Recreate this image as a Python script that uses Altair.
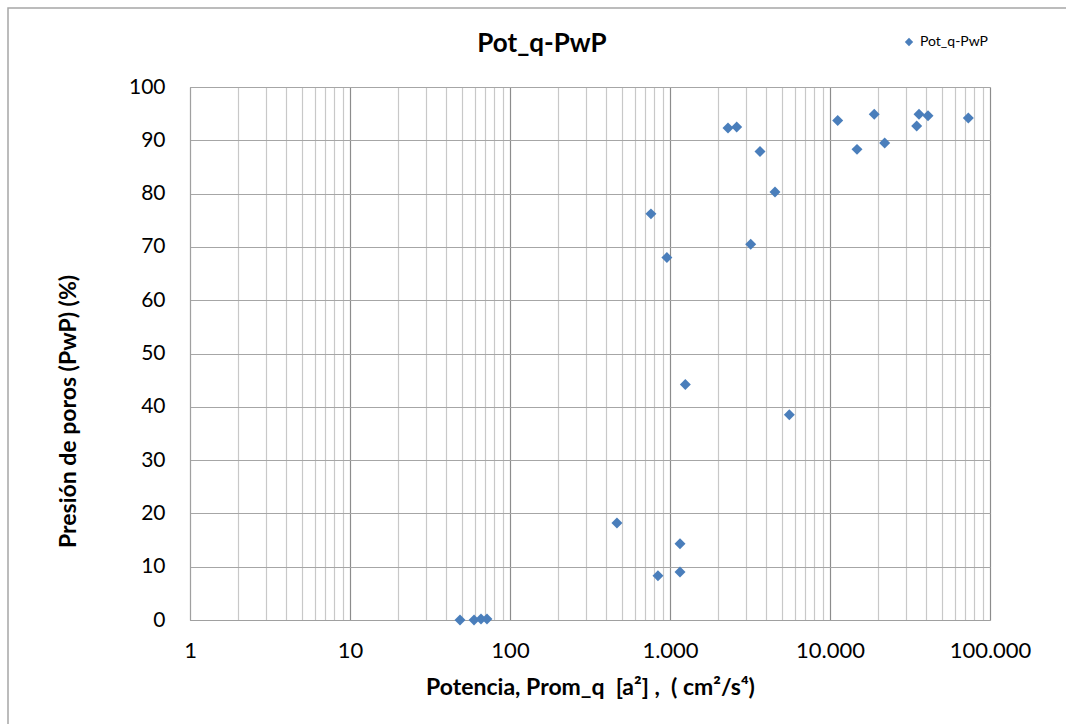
import altair as alt
import pandas as pd

potencia = [48.7, 59.6, 65.9, 71.8, 466, 841, 1155, 1155, 2304, 2612, 3652, 4531,
            760, 3194, 956, 1247, 5570, 11170, 14750, 18900, 21970, 34820, 36000,
            40980, 73200]
pwp = [0.0, 0.0, 0.2, 0.2, 18.2, 8.3, 9.0, 14.3, 92.3, 92.5, 87.9, 80.3,
       76.2, 70.5, 68.0, 44.2, 38.5, 93.7, 88.3, 94.9, 89.5, 92.7, 94.9,
       94.6, 94.2]
series = "Pot_q-PwP"
chart_title = "Pot_q-PwP"
x_title = "Potencia, Prom_q\u00a0\u00a0[a²]\u00a0,\u00a0\u00a0(\u00a0cm²/s⁴)"
y_title = "Presión de poros (PwP) (%)"

x_grid_values = [m * 10 ** e for e in range(0, 5) for m in range(1, 10)] + [100000]

df = pd.DataFrame({"x": potencia, "y": pwp, "s": [series] * len(potencia)})

FONT = "Lato"
is_decade = "abs(log(datum.value)/LN10 - round(log(datum.value)/LN10)) < 1e-6"

x_axis = alt.Axis(
    values=x_grid_values,
    labelExpr=f"({is_decade}) ? replace(format(datum.value, ','), ',', '.') : ''",
    grid=True,
    gridColor={"condition": {"test": is_decade, "value": "#8c8c8c"}, "value": "#c8c8c8"},
    gridWidth=1.2,
    ticks=False,
    domainColor="#a0a0a0",
    labelFontSize=22,
    labelColor="#000000",
    labelFont=FONT,
    labelPadding=20,
    labelFlush=False,
    labelOverlap=False,
    title=x_title,
    titleFont=FONT,
    titleFontSize=23,
    titleFontWeight="bold",
    titleColor="#000000",
    titlePadding=15,
)

y_axis = alt.Axis(
    values=list(range(0, 101, 10)),
    grid=True,
    gridColor="#a6a6a6",
    gridWidth=1.2,
    ticks=False,
    domainColor="#a0a0a0",
    labelFontSize=21,
    labelColor="#000000",
    labelFont=FONT,
    labelPadding=25,
    title=y_title,
    titleFont=FONT,
    titleFontSize=23,
    titleFontWeight="bold",
    titleColor="#000000",
    titlePadding=48,
    titleY=324,
)

border = alt.Chart(pd.DataFrame({"a": [0]})).mark_rect(
    fill=None, stroke="#a6a6a6", strokeWidth=1.5
).encode(
    x=alt.value(-182), x2=alt.value(900), y=alt.value(-79), y2=alt.value(660)
)

title_mark = alt.Chart(pd.DataFrame({"t": [chart_title]})).mark_text(
    font=FONT, fontSize=26, fontWeight="bold", color="#000000",
    align="center", baseline="alphabetic"
).encode(x=alt.value(352), y=alt.value(-35), text="t:N")

points = alt.Chart(df).mark_point(filled=True, opacity=1, size=120).encode(
    x=alt.X("x:Q", scale=alt.Scale(type="log", domain=[1, 100000]), axis=x_axis),
    y=alt.Y("y:Q", scale=alt.Scale(domain=[0, 100]), axis=y_axis),
    color=alt.Color("s:N", scale=alt.Scale(range=["#4a7ebb"]),
                    legend=alt.Legend(title=None, orient="none", legendX=712, legendY=-52,
                                      labelFont=FONT, labelFontSize=14, labelColor="#000000",
                                      labelOffset=4,
                                      symbolSize=70, symbolType="diamond")),
    shape=alt.Shape("s:N", scale=alt.Scale(range=["diamond"]), legend=None),
)

chart = alt.layer(border, title_mark, points).properties(
    width=800,
    height=533,
    autosize=alt.AutoSizeParams(type="none"),
    padding={"left": 190, "top": 87, "right": 76, "bottom": 104},
).configure_view(stroke=None).configure(background="white")

chart.save("out.html", embed_options={"renderer": "svg", "actions": False})
